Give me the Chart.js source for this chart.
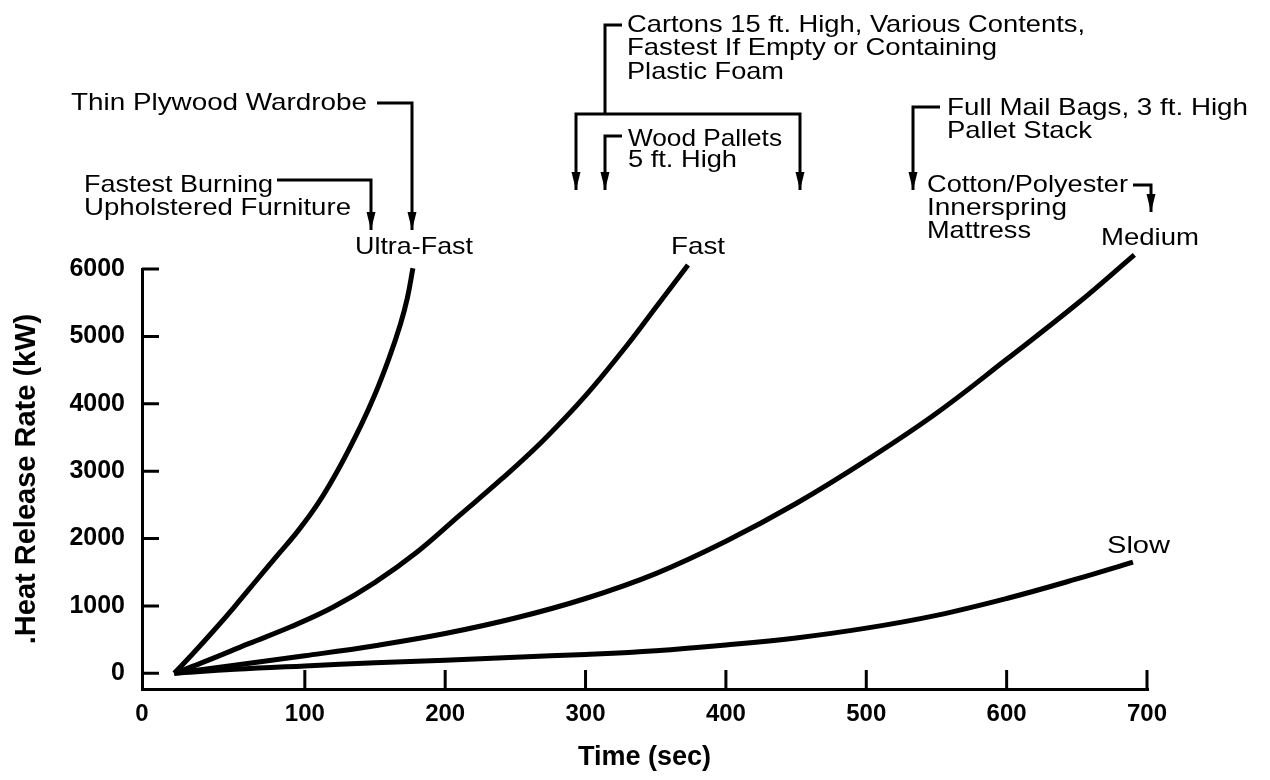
<!DOCTYPE html>
<html>
<head>
<meta charset="UTF-8">
<title>Heat Release Rate vs Time</title>
<script src="https://cdn.jsdelivr.net/npm/chart.js"></script>
<style>
  html, body { margin: 0; padding: 0; background: #fff; }
  #wrap { width: 1270px; height: 780px; }
</style>
</head>
<body>
<div id="wrap"><canvas id="hrr" width="1270" height="780"></canvas></div>
<script>
// values: time (sec) and heat release rate (kW)
const ultraFastTime = [7, 20, 35, 50, 65, 80, 95, 110, 125, 140, 150, 160, 168, 173, 177];
const ultraFastHRR  = [0, 286, 631, 991, 1366, 1740, 2110, 2540, 3070, 3680, 4140, 4678, 5174, 5564, 6010];

const fastTime = [7, 30, 60, 90, 120, 150, 180, 210, 240, 270, 300, 330, 350, 373];
const fastHRR  = [0, 185, 440, 690, 980, 1350, 1800, 2340, 2880, 3460, 4120, 4880, 5430, 6060];

const mediumTime = [7, 50, 100, 150, 200, 250, 300, 350, 400, 450, 500, 550, 600, 650, 691];
const mediumHRR  = [0, 120, 260, 410, 590, 820, 1110, 1480, 1960, 2520, 3160, 3860, 4660, 5480, 6210];

const slowTime = [7, 50, 100, 150, 200, 250, 300, 350, 400, 450, 500, 550, 600, 650, 690];
const slowHRR  = [0, 60, 110, 155, 195, 240, 280, 335, 420, 525, 670, 860, 1110, 1400, 1650];

const X_TICKS = [0, 100, 200, 300, 400, 500, 600, 700];
const Y_TICKS = [0, 1000, 2000, 3000, 4000, 5000, 6000];

// the printed "0" sits on the axis corner, a bit left of the true zero
const X_AXIS_START = -16;
const Y_AXIS_START = -233;

const FONT = '"Liberation Sans", Arial, sans-serif';

// annotation text: [text, left, baseline, width]
const notes = [
  ['Thin Plywood Wardrobe', 71, 110, 296],
  ['Fastest Burning', 84, 192, 189],
  ['Upholstered Furniture', 84, 215, 267],
  ['Ultra-Fast', 355, 254, 118],
  ['Cartons 15 ft. High, Various Contents,', 627, 32, 458],
  ['Fastest If Empty or Containing', 627, 55, 370],
  ['Plastic Foam', 627, 79, 157],
  ['Wood Pallets', 628, 146, 154],
  ['5 ft. High', 628, 167, 109],
  ['Fast', 671, 254, 54],
  ['Full Mail Bags, 3 ft. High', 947, 115, 301],
  ['Pallet Stack', 947, 138, 145],
  ['Cotton/Polyester', 927, 192, 201],
  ['Innerspring', 927, 215, 140],
  ['Mattress', 927, 238, 104],
  ['Medium', 1101, 245, 98],
  ['Slow', 1107, 553, 63]
];

// leader lines, last point gets an arrow head when flagged
const leaders = [
  { pts: [[377, 103], [412, 103], [412, 230]], arrow: true },
  { pts: [[277, 180], [371, 180], [371, 230]], arrow: true },
  { pts: [[622, 25], [605, 25], [605, 114]], arrow: false },
  { pts: [[605, 114], [576, 114], [576, 190]], arrow: true },
  { pts: [[605, 114], [800, 114], [800, 190]], arrow: true },
  { pts: [[622, 136], [605, 136], [605, 190]], arrow: true },
  { pts: [[940, 107], [913, 107], [913, 190]], arrow: true },
  { pts: [[1133, 185], [1151, 185], [1151, 212]], arrow: true }
];

function toPoints(ts, qs) {
  return ts.map((t, i) => ({ x: t, y: qs[i] }));
}

function curve(label, ts, qs) {
  return {
    label: label,
    data: toPoints(ts, qs),
    borderColor: '#000',
    borderWidth: 5,
    borderCapStyle: 'butt',
    pointRadius: 0,
    fill: false,
    tension: 0.4,
    clip: false
  };
}

const insideTicks = {
  id: 'insideTicks',
  afterDraw(chart) {
    const { ctx, chartArea: a, scales: { x, y } } = chart;
    ctx.save();
    ctx.strokeStyle = '#000';
    ctx.lineWidth = 3;
    ctx.beginPath();
    Y_TICKS.forEach(v => {
      const py = y.getPixelForValue(v);
      ctx.moveTo(a.left, py);
      ctx.lineTo(a.left + 17, py);
    });
    X_TICKS.filter(v => v > 0).forEach(v => {
      const px = x.getPixelForValue(v);
      ctx.moveTo(px, a.bottom);
      ctx.lineTo(px, a.bottom - 19);
    });
    ctx.stroke();
    ctx.restore();
  }
};

const annotations = {
  id: 'annotations',
  afterDraw(chart) {
    const ctx = chart.ctx;
    ctx.save();
    ctx.fillStyle = '#000';
    ctx.strokeStyle = '#000';
    ctx.font = '24px ' + FONT;
    ctx.textBaseline = 'alphabetic';
    ctx.textAlign = 'left';
    notes.forEach(([text, x, y, w]) => {
      const m = ctx.measureText(text).width;
      ctx.save();
      ctx.translate(x, y);
      ctx.scale(w / m, 1);
      ctx.fillText(text, 0, 0);
      ctx.restore();
    });

    ctx.lineWidth = 3;
    leaders.forEach(l => {
      ctx.beginPath();
      l.pts.forEach(([px, py], i) => i ? ctx.lineTo(px, py) : ctx.moveTo(px, py));
      ctx.stroke();
      if (l.arrow) {
        const [tx, ty] = l.pts[l.pts.length - 1];
        ctx.beginPath();
        ctx.moveTo(tx, ty);
        ctx.lineTo(tx - 4.5, ty - 18);
        ctx.lineTo(tx + 4.5, ty - 18);
        ctx.closePath();
        ctx.fill();
      }
    });
    ctx.restore();
  }
};

new Chart(document.getElementById('hrr'), {
  type: 'line',
  data: {
    datasets: [
      curve('Ultra-Fast', ultraFastTime, ultraFastHRR),
      curve('Fast', fastTime, fastHRR),
      curve('Medium', mediumTime, mediumHRR),
      curve('Slow', slowTime, slowHRR)
    ]
  },
  options: {
    responsive: false,
    animation: false,
    devicePixelRatio: 1,
    layout: { padding: { left: 0, right: 123, top: 269, bottom: 0 } },
    plugins: {
      legend: { display: false },
      tooltip: { enabled: false }
    },
    scales: {
      x: {
        type: 'linear',
        min: X_AXIS_START,
        max: 700,
        afterBuildTicks: s => { s.ticks = X_TICKS.map(v => ({ value: v === 0 ? X_AXIS_START : v })); },
        afterFit: s => { s.height = 91; },
        ticks: {
          autoSkip: false,
          maxRotation: 0,
          padding: 11,
          color: '#000',
          font: { family: FONT, size: 24, weight: 'bold' },
          callback: v => v === X_AXIS_START ? '0' : String(v)
        },
        grid: { display: true, drawOnChartArea: false, drawTicks: false, lineWidth: 3, color: '#000' },
        border: { display: true, color: '#000', width: 3 },
        title: {
          display: true,
          text: 'Time (sec)',
          color: '#000',
          font: { family: FONT, size: 27, weight: 'bold' },
          padding: { top: 0, bottom: 6 }
        }
      },
      y: {
        type: 'linear',
        min: Y_AXIS_START,
        max: 6000,
        afterBuildTicks: s => { s.ticks = Y_TICKS.map(v => ({ value: v })); },
        afterFit: s => { s.width = 142; },
        ticks: {
          autoSkip: false,
          padding: 17,
          color: '#000',
          font: { family: FONT, size: 25, weight: 'bold' },
          callback: v => String(v)
        },
        grid: { display: true, drawOnChartArea: false, drawTicks: false, lineWidth: 3, color: '#000' },
        border: { display: true, color: '#000', width: 3 },
        title: {
          display: true,
          text: '.Heat Release Rate (kW)',
          color: '#000',
          font: { family: FONT, size: 29, weight: 'bold' },
          padding: { top: 10, bottom: 0 }
        }
      }
    }
  },
  plugins: [insideTicks, annotations]
});
</script>
</body>
</html>
